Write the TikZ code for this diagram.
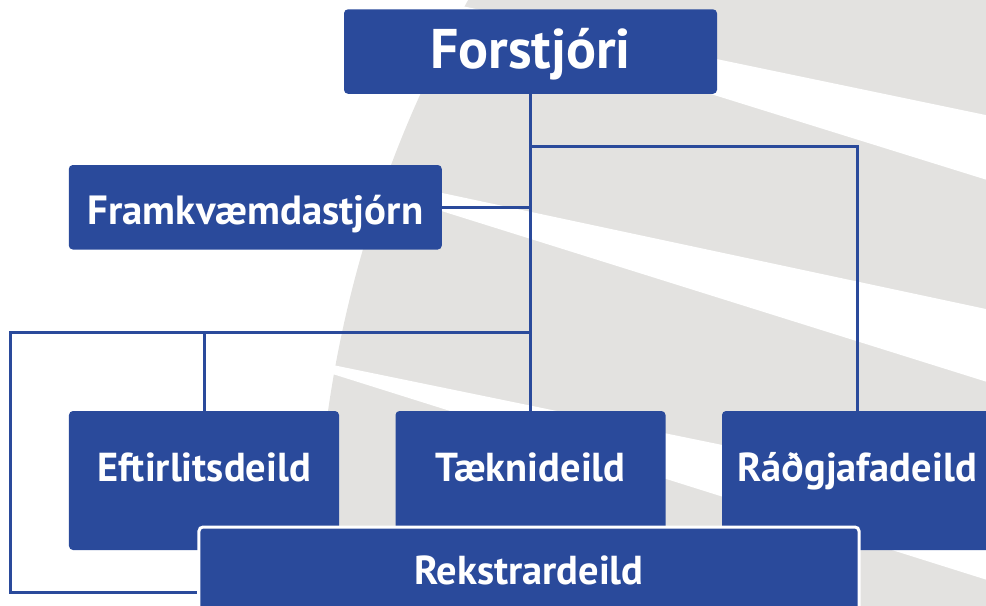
\documentclass[tikz,border=0pt]{standalone}
\usepackage{fontspec}
\setmainfont{PT Sans}
\usetikzlibrary{calc}
\definecolor{orgblue}{RGB}{42,74,155}
\definecolor{globegray}{RGB}{227,226,224}

\begin{document}
\begin{tikzpicture}[x=0.2mm, y=-0.2mm,
    unit/.style={fill=orgblue, text=white, rounded corners=0.8mm, inner sep=0pt, anchor=base,
      font=\bfseries\fontsize{23}{23}\selectfont},
    headunit/.style={unit, minimum width=74.6mm, text height=11.8mm, text depth=5.1mm},
    deptunit/.style={unit, minimum width=54mm, text height=14mm, text depth=13.8mm},
    link/.style={draw=orgblue, line width=0.6mm}]
  %%%%% START %%%%%
  \useasboundingbox (0,0) rectangle (986,605);
  \clip (0,0) rectangle (986,605);

  % globe with its white rays
  \fill[globegray] (1496,580) circle (1180);
  \fill[white] (380,-11) -- (1000,118) -- (1000,184) -- (380,-9) -- cycle;
  \fill[white] (250,152) -- (1000,312) -- (1000,386) -- (250,151) -- cycle;
  \fill[white] (250,348) -- (1000,502) -- (1000,584) -- (250,348) -- cycle;

  % units
  \node[headunit, font=\bfseries\fontsize{31.8}{31.8}\selectfont] (forstjori) at (530.5,68.3) {Forstjóri};
  \node[headunit, font=\bfseries\fontsize{23.2}{23.2}\selectfont] (framkv) at (255.3,224) {Framkvæmdastjórn};
  \node[deptunit] (eftirlit) at (204,481) {Eftirlitsdeild};
  \node[deptunit] (taekni) at (530.5,481) {Tæknideild};
  \node[deptunit] (radgjafa) at (857,481) {Ráðgjafadeild};
  \node[unit, minimum width=132mm, text height=11.5mm, text depth=14.5mm,
    draw=white, line width=0.6mm] (rekstrar) at (529,584.5) {Rekstrardeild};

  % lines
  \draw[link] (forstjori.south) -- (taekni.north);
  \coordinate (fork) at (530.5,146);
  \draw[link] (fork) -| (radgjafa.north);
  \draw[link] (framkv.east) -- (framkv.east -| taekni.north);
  \coordinate (leftcorner) at (10,332);
  \draw[link] (taekni.north |- leftcorner) -- (leftcorner) |- (rekstrar.west);
  \draw[link] (eftirlit.north) -- (eftirlit.north |- leftcorner);
  %%%%% END %%%%%
\end{tikzpicture}
\end{document}
